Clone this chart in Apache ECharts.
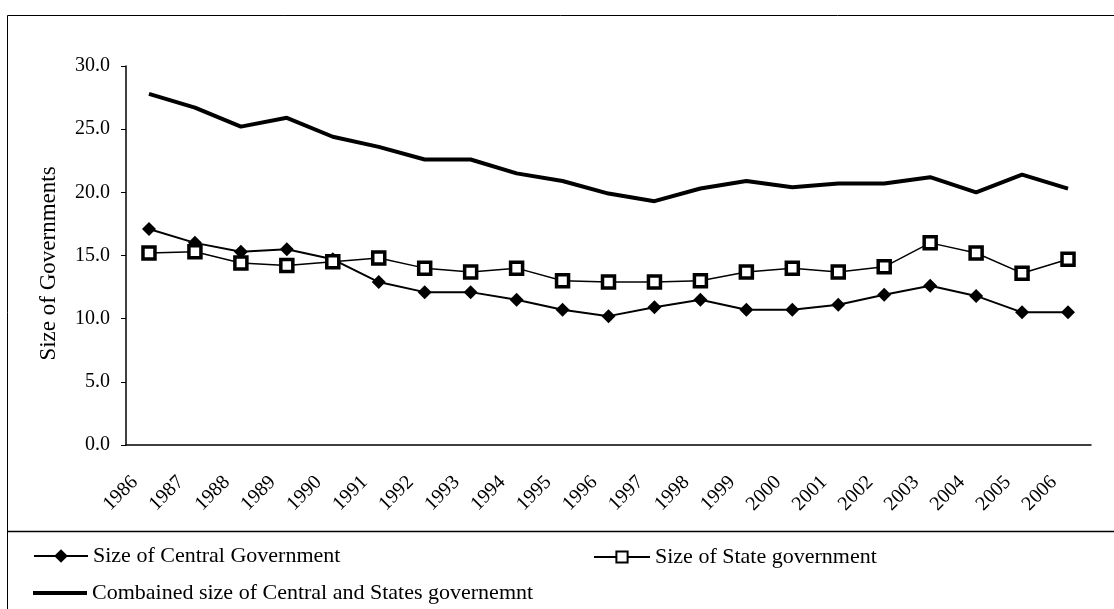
<!DOCTYPE html>
<html>
<head>
<meta charset="utf-8">
<script src="https://cdn.jsdelivr.net/npm/echarts@6/dist/echarts.min.js"></script>
<style>
  html, body { margin: 0; padding: 0; background: #fff; }
  #chart { width: 1114px; height: 609px; }
</style>
</head>
<body>
<div id="chart"></div>
<script>
// 年份
const years = ['1986', '1987', '1988', '1989', '1990', '1991', '1992', '1993', '1994', '1995', '1996',
  '1997', '1998', '1999', '2000', '2001', '2002', '2003', '2004', '2005', '2006']
// 中央政府规模
const centralGov = [17.1, 16.0, 15.3, 15.5, 14.7, 12.9, 12.1, 12.1, 11.5, 10.7, 10.2,
  10.9, 11.5, 10.7, 10.7, 11.1, 11.9, 12.6, 11.8, 10.5, 10.5]
// 邦政府规模
const stateGov = [15.2, 15.3, 14.4, 14.2, 14.5, 14.8, 14.0, 13.7, 14.0, 13.0, 12.9,
  12.9, 13.0, 13.7, 14.0, 13.7, 14.1, 16.0, 15.2, 13.6, 14.7]
// 合计
const combinedGov = [27.8, 26.7, 25.2, 25.9, 24.4, 23.6, 22.6, 22.6, 21.5, 20.9, 19.9,
  19.3, 20.3, 20.9, 20.4, 20.7, 20.7, 21.2, 20.0, 21.4, 20.3]

const seriesNames = [
  'Size of Central Government',
  'Size of State government',
  'Combained size of Central and States governemnt'
]

const font = 'Liberation Serif'
const chart = echarts.init(document.getElementById('chart'))

const legendText = { fontFamily: font, fontSize: 22, color: '#000' }

const option = {
  backgroundColor: '#fff',
  animation: false,
  textStyle: { fontFamily: font, color: '#000' },
  grid: { left: 126, right: 23, top: 66, bottom: 164 },
  legend: [
    {
      data: [seriesNames[0]],
      left: 28, top: 540,
      itemWidth: 54, itemHeight: 17,
      textStyle: legendText
    },
    {
      data: [seriesNames[1]],
      left: 588, top: 541,
      itemWidth: 56, itemHeight: 14,
      textStyle: legendText
    },
    {
      data: [{ name: seriesNames[2], icon: 'rect' }],
      left: 28, top: 577,
      itemWidth: 54, itemHeight: 4,
      textStyle: legendText
    }
  ],
  xAxis: {
    type: 'category',
    data: years,
    boundaryGap: true,
    axisLine: { lineStyle: { color: '#000', width: 1.5 } },
    axisTick: { interval: 0, length: 5, lineStyle: { color: '#000' } },
    axisLabel: {
      interval: 0,
      rotate: 45,
      margin: 20,
      padding: [0, 20, 0, 0],
      fontFamily: font,
      fontSize: 20,
      color: '#000'
    },
    splitLine: { show: false }
  },
  yAxis: {
    type: 'value',
    min: 0,
    max: 30,
    interval: 5,
    name: 'Size of Governments',
    nameLocation: 'middle',
    nameGap: 66,
    nameTextStyle: { fontFamily: font, fontSize: 23, color: '#000', padding: [0, 16, 0, 0] },
    axisLine: { show: true, lineStyle: { color: '#000', width: 1.5 } },
    axisTick: { show: true, length: 5, lineStyle: { color: '#000' } },
    axisLabel: {
      margin: 16,
      fontFamily: font,
      fontSize: 20,
      color: '#000',
      formatter: (v) => v.toFixed(1)
    },
    splitLine: { show: false }
  },
  series: [
    {
      name: seriesNames[0],
      type: 'line',
      data: centralGov,
      symbol: 'diamond',
      symbolSize: 14,
      lineStyle: { color: '#000', width: 2 },
      itemStyle: { color: '#000' }
    },
    {
      name: seriesNames[1],
      type: 'line',
      data: stateGov,
      symbol: 'rect',
      symbolSize: 12,
      lineStyle: { color: '#000', width: 1.5 },
      itemStyle: { color: '#fff', borderColor: '#000', borderWidth: 3.5 }
    },
    {
      name: seriesNames[2],
      type: 'line',
      data: combinedGov,
      symbol: 'none',
      lineStyle: { color: '#000', width: 4 },
      itemStyle: { color: '#000' }
    }
  ],
  // 外框和图例分隔线
  graphic: [
    {
      type: 'polyline',
      shape: { points: [[7.5, 609], [7.5, 15.5], [1114, 15.5]] },
      style: { stroke: '#000', lineWidth: 1, fill: null }
    },
    {
      type: 'line',
      shape: { x1: 7.5, y1: 531.5, x2: 1114, y2: 531.5 },
      style: { stroke: '#000', lineWidth: 1.5 }
    }
  ]
}

chart.setOption(option)
</script>
</body>
</html>
